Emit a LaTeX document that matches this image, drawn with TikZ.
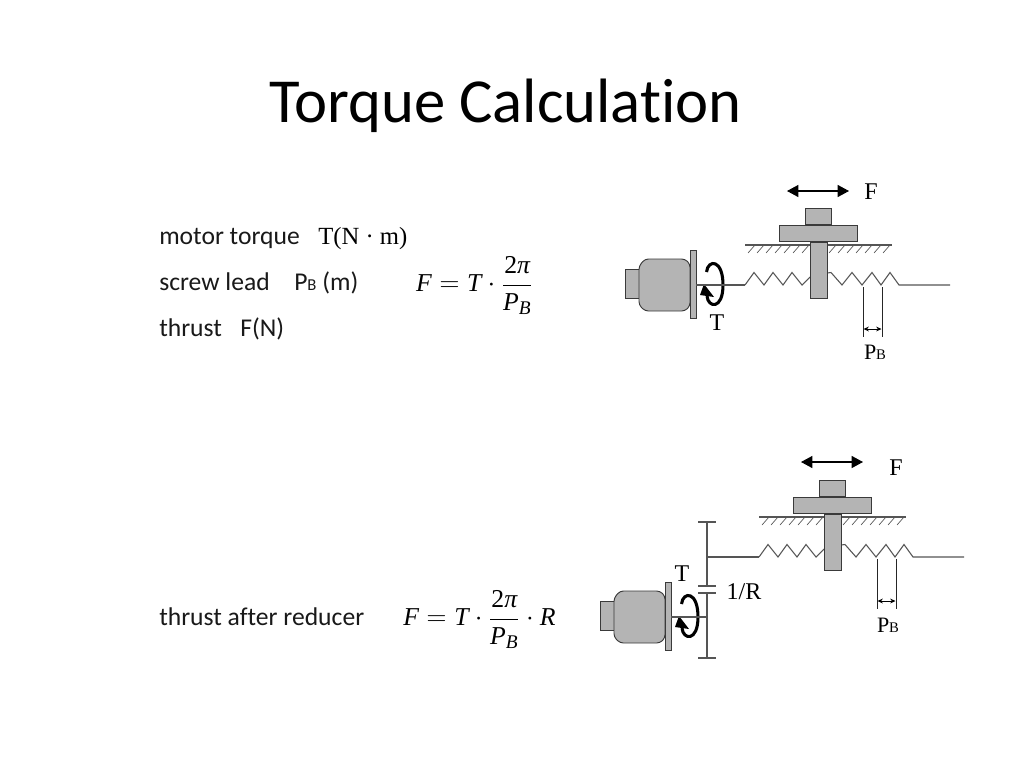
\documentclass[tikz,border=0pt]{standalone}
\usepackage{fontspec}
\setmainfont[Ligatures=NoCommon]{Carlito}
\newfontfamily\serifl{Liberation Serif}
\usetikzlibrary{arrows.meta}
\definecolor{partgray}{HTML}{B4B4B4}
\definecolor{linegray}{HTML}{555555}
\definecolor{edgegray}{HTML}{3A3A3A}
\tikzset{
  part/.style={draw=edgegray,fill=partgray,line width=0.7pt},
  rod/.style={draw=linegray,line width=0.8pt},
  thin rod/.style={draw=black!85,line width=0.6pt},
  hatch/.style={draw=linegray,line width=0.5pt},
  label/.style={inner sep=0pt,anchor=base west,font=\fontsize{19.2}{22}\selectfont,text=black!90},
  slabel/.style={inner sep=0pt,font=\serifl\fontsize{18}{20}\selectfont,text=black},
  force/.style={draw=black,line width=0.8pt,{Triangle[length=8.5pt,width=9pt]}-{Triangle[length=8.5pt,width=9pt]}},
  lead/.style={draw=black,line width=0.6pt,{Stealth[length=4pt,width=3.6pt]}-{Stealth[length=4pt,width=3.6pt]}},
  spin/.style={draw=black,line width=2.3pt},
  math/.style={inner sep=0pt,font=\serifl\fontsize{19.3}{23}\selectfont}
}
\newcommand{\mi}[1]{\mbox{\itshape #1}}
\newcommand{\mbb}{\mbox{\itshape\fontsize{14.5}{17}\selectfont B}}
\newcommand{\motorpart}{%
  \draw[part] (625,269) rectangle (640,298);
  \draw[part,rounded corners=2.5pt] (639,266) -- (645,259) -- (685,259) -- (690,264) -- (690,306) -- (685,311) -- (645,311) -- (639,305) -- cycle;
  \draw[part] (690,250) rectangle (696,318);
}
\newcommand{\spinarrow}{%
  \draw[spin] (706.5,272) .. controls (708,259) and (723,259) .. (723,285) .. controls (723,310) and (708,308) .. (707,296);
  \fill[black] (700,295) -- (714,297) -- (704,284) -- cycle;
}
\newcommand{\slidepart}{%
  \draw[rod] (745,245) -- (892,245);
  \foreach \hx in {748,757,...,802}{\draw[hatch] (\hx,253) -- (\hx+7,245);}
  \foreach \hx in {829,838,...,883}{\draw[hatch] (\hx,253) -- (\hx+7,245);}
  \draw[rod] (745,285) -- (754,272.5) -- (764,285) -- (773,272.5) -- (783,285) -- (792,272.5) -- (802,285) -- (810,277);
  \draw[rod] (827,273) -- (831,272.5) -- (842,285) -- (852,272.5) -- (862,285) -- (872,272.5) -- (881,285) -- (890,272.5) -- (899,285) -- (950,285);
  \draw[part] (805,208) rectangle (831,224);
  \draw[part] (779,225) rectangle (857,241);
  \draw[part] (810,242) rectangle (827,298);
  \draw[thin rod] (863,287) -- (863,337);
  \draw[thin rod] (882,287) -- (882,337);
  \draw[lead] (863.5,329) -- (881.5,329);
}
\begin{document}
\begin{tikzpicture}[x=0.75pt,y=-0.75pt]
\useasboundingbox (0,0) rectangle (1024,768);
\fill[white] (0,0) rectangle (1024,768);
\node[inner sep=0pt,anchor=base west,font=\fontsize{47}{50}\selectfont] (title) at (269,122) {Torque Calculation};
\node[label] (torque) at (159,244) {motor torque};
\node[inner sep=0pt,anchor=base west,font=\serifl\fontsize{18.5}{20}\selectfont] (torqueunit) at (318,244) {T(N · m)};
\node[label] (lead) at (159,290) {screw lead};
\node[label] (leadunit) at (294,290) {P{\fontsize{12.5}{14}\selectfont B} (m)};
\node[label] (thrust) at (159,336) {thrust};
\node[label] (thrustunit) at (240,336) {F(N)};
\node[label] (after) at (159,625) {thrust after reducer};
\node[math] (eqa) at (474.5,285.5) {$\displaystyle \mi{F} = \mi{T}\cdot\frac{\mbox{2\itshape π}}{\mi{P}_{\mbb}}$};
\node[math] (eqb) at (479.5,619.5) {$\displaystyle \mi{F} = \mi{T}\cdot\frac{\mbox{2\itshape π}}{\mi{P}_{\mbb}}\cdot \mi{R}$};
% upper mechanism
\motorpart
\spinarrow
\slidepart
\draw[rod] (696,285) -- (745,285);
\coordinate (fa) at (787,191);
\coordinate (fb) at (849,191);
\draw[force] (fa) -- (fb);
\node[slabel] (fone) at (871,192) {F};
\node[slabel] (tone) at (717,323) {T};
\node[slabel,font=\serifl\fontsize{16.5}{20}\selectfont] (pone) at (875,352) {P{\fontsize{11}{13}\selectfont B}};
% lower mechanism
\begin{scope}[shift={(-25,332)}]
  \motorpart
  \spinarrow
\end{scope}
\begin{scope}[shift={(14,272)}]
  \slidepart
\end{scope}
\draw[rod] (671,617) -- (707,617);
\draw[rod] (707,557) -- (759,557);
\draw[rod] (707,522) -- (707,586);
\draw[rod] (707,593) -- (707,658);
\draw[rod] (698,522) -- (716,522);
\draw[rod] (698,586) -- (716,586);
\draw[rod] (698,593) -- (716,593);
\draw[rod] (698,658) -- (716,658);
\coordinate (ga) at (801,462);
\coordinate (gb) at (863,462);
\draw[force] (ga) -- (gb);
\node[slabel] (ftwo) at (896,468) {F};
\node[slabel] (ttwo) at (682,574) {T};
\node[slabel] (ratio) at (744,592) {1/R};
\node[slabel,font=\serifl\fontsize{16.5}{20}\selectfont] (ptwo) at (888,625) {P{\fontsize{11}{13}\selectfont B}};
\end{tikzpicture}
\end{document}
